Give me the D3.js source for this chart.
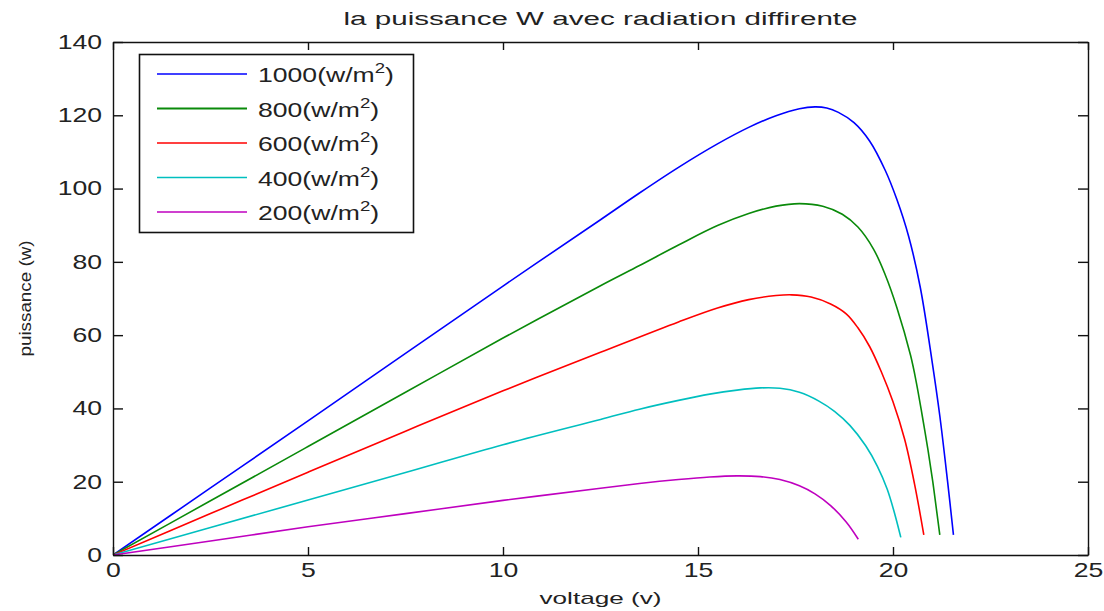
<!DOCTYPE html>
<html>
<head>
<meta charset="utf-8">
<script src="https://cdn.jsdelivr.net/npm/d3@7"></script>
<style>
  html, body { margin: 0; padding: 0; background: #fff; }
  svg { display: block; font-family: "Liberation Sans", Arial, sans-serif; }
</style>
</head>
<body>
<svg id="chart" width="1104" height="611"></svg>
<script>
// ---- data ----
const title = "la puissance W avec radiation diffirente";
const xLabel = "voltage (v)";
const yLabel = "puissance (w)";
const xTicks = [0, 5, 10, 15, 20, 25];
const yTicks = [0, 20, 40, 60, 80, 100, 120, 140];
const irradiance = ["1000", "800", "600", "400", "200"];
const seriesColors = ["#0000ff", "#0a8a0a", "#ff0000", "#00bfbf", "#bf00bf"];

const voltage1000 = [0, 2.5, 5, 7.5, 10, 12.5, 13.5, 14.5, 15.5, 16.3, 17.0, 17.6, 18.0, 18.3, 18.6, 19.0, 19.4, 19.8, 20.1, 20.4, 20.7, 21.0, 21.2, 21.4, 21.55];
const power1000   = [0, 18.3, 36.6, 55.0, 73.4, 91.5, 98.8, 105.8, 112.2, 116.7, 119.9, 121.8, 122.3, 122.0, 120.8, 118.0, 113.0, 105.0, 97.0, 87.0, 73.0, 53.0, 38.0, 20.0, 5.5];

const voltage800 = [0, 2.5, 5, 7.5, 10, 12.5, 13.5, 14.5, 15.5, 16.3, 17.0, 17.6, 18.2, 18.7, 19.1, 19.5, 19.8, 20.1, 20.45, 20.6, 20.75, 20.9, 21.02, 21.12, 21.2];
const power800   = [0, 14.8, 29.6, 44.4, 59.2, 73.5, 79.0, 84.6, 89.9, 93.2, 95.2, 95.9, 95.2, 93.0, 89.5, 83.5, 76.5, 67.5, 54.5, 47.0, 38.0, 28.5, 20.0, 12.0, 5.5];

const voltage600 = [0, 2.5, 5, 7.5, 10, 12.5, 14.5, 15.5, 16.3, 17.0, 17.4, 17.9, 18.4, 18.8, 19.1, 19.4, 19.7, 20.0, 20.3, 20.55, 20.79];
const power600   = [0, 11.3, 22.6, 33.8, 44.8, 55.3, 63.6, 67.4, 69.7, 70.8, 71.0, 70.4, 68.5, 65.8, 62.0, 56.9, 50.0, 41.8, 31.5, 19.5, 5.5];

const voltage400 = [0, 2.5, 5, 7.5, 10, 12.5, 13.5, 14.5, 15.3, 16.0, 16.6, 17.1, 17.6, 18.1, 18.5, 18.9, 19.3, 19.6, 19.85, 20.05, 20.2];
const power400   = [0, 7.5, 15.0, 22.5, 30.1, 37.0, 39.8, 42.2, 43.9, 45.0, 45.6, 45.5, 44.4, 42.0, 39.2, 35.3, 29.8, 24.2, 18.0, 11.0, 4.8];

const voltage200 = [0, 2.5, 5, 7.5, 10, 12.5, 13.5, 14.5, 15.3, 16.0, 16.6, 17.1, 17.6, 18.0, 18.4, 18.8, 19.11];
const power200   = [0, 3.8, 7.7, 11.3, 14.9, 18.2, 19.5, 20.6, 21.3, 21.6, 21.4, 20.6, 18.9, 16.7, 13.5, 9.0, 4.3];

const voltages = [voltage1000, voltage800, voltage600, voltage400, voltage200];
const powers = [power1000, power800, power600, power400, power200];

// ---- layout ----
const svg = d3.select("#chart");
const L = 113, R = 1088, T = 42, B = 555;
const SX = 1.33; // horizontal stretch of the reference text

const x = d3.scaleLinear().domain([0, 25]).range([L, R]);
const y = d3.scaleLinear().domain([0, 140]).range([B, T]);

svg.append("rect").attr("x", L).attr("y", T).attr("width", R - L).attr("height", B - T)
  .attr("fill", "#fff");

// series
const line = d3.line().x(d => x(d[0])).y(d => y(d[1])).curve(d3.curveCatmullRom.alpha(0.5));
svg.append("clipPath").attr("id", "clip").append("rect")
  .attr("x", L).attr("y", T).attr("width", R - L).attr("height", B - T);
voltages.forEach((vs, i) => {
  const pts = vs.map((v, j) => [v, powers[i][j]]);
  svg.append("path").datum(pts)
    .attr("d", line)
    .attr("fill", "none")
    .attr("stroke", seriesColors[i])
    .attr("stroke-width", 1.6)
    .attr("stroke-linejoin", "round")
    .attr("clip-path", "url(#clip)");
});

// axes
const axisColor = "#111";
const tickFont = 20;

const gBottom = svg.append("g").attr("transform", `translate(0,${B})`)
  .call(d3.axisBottom(x).tickValues(xTicks).tickSizeInner(-8).tickSizeOuter(0).tickPadding(8));
const gTop = svg.append("g").attr("transform", `translate(0,${T})`)
  .call(d3.axisTop(x).tickValues(xTicks).tickSizeInner(-8).tickSizeOuter(0).tickFormat(""));
const gLeft = svg.append("g").attr("transform", `translate(${L},0)`)
  .call(d3.axisLeft(y).tickValues(yTicks).tickSizeInner(-10).tickSizeOuter(0).tickPadding(11));
const gRight = svg.append("g").attr("transform", `translate(${R},0)`)
  .call(d3.axisRight(y).tickValues(yTicks).tickSizeInner(-10).tickSizeOuter(0).tickFormat(""));

[gBottom, gTop, gLeft, gRight].forEach(g => {
  g.select(".domain").attr("stroke", axisColor).attr("stroke-width", 1.4);
  g.selectAll(".tick line").attr("stroke", axisColor).attr("stroke-width", 1.4);
  g.selectAll(".tick text").attr("fill", "#222").attr("font-size", tickFont)
    .attr("font-family", "'Liberation Sans', Arial, sans-serif");
});
gBottom.selectAll(".tick text").attr("transform", `scale(${SX},1)`);
gLeft.selectAll(".tick text").attr("x", -11 / SX).attr("transform", `scale(${SX},1)`);

// title & labels
svg.append("text").attr("x", (L + R) / 2).attr("y", 25)
  .attr("text-anchor", "middle").attr("font-size", 18).attr("fill", "#222")
  .attr("textLength", 514).attr("lengthAdjust", "spacingAndGlyphs")
  .text(title);

svg.append("text").attr("x", (L + R) / 2).attr("y", 604)
  .attr("text-anchor", "middle").attr("font-size", 17).attr("fill", "#222")
  .attr("textLength", 122).attr("lengthAdjust", "spacingAndGlyphs")
  .text(xLabel);

svg.append("text").attr("transform", `translate(31,${(T + B) / 2}) rotate(-90)`)
  .attr("text-anchor", "middle").attr("font-size", 17).attr("fill", "#222")
  .attr("textLength", 116).attr("lengthAdjust", "spacingAndGlyphs")
  .text(yLabel);

// legend
const lg = svg.append("g");
lg.append("rect").attr("x", 139.5).attr("y", 54.5).attr("width", 274).attr("height", 178)
  .attr("fill", "#fff").attr("stroke", "#111").attr("stroke-width", 1.6);
const rowY = [74, 108.5, 143, 177.5, 212];
irradiance.forEach((lab, i) => {
  lg.append("line").attr("x1", 157).attr("x2", 247).attr("y1", rowY[i]).attr("y2", rowY[i])
    .attr("stroke", seriesColors[i]).attr("stroke-width", i === 1 ? 2 : 1.4);
  const t = lg.append("text")
    .attr("transform", `translate(258,${rowY[i] + 8}) scale(${SX},1)`)
    .attr("font-size", 20).attr("fill", "#222");
  t.append("tspan").text(lab + "(w/m");
  t.append("tspan").attr("font-size", 14).attr("dy", -9).text("2");
  t.append("tspan").attr("dy", 9).text(")");
});
</script>
</body>
</html>
